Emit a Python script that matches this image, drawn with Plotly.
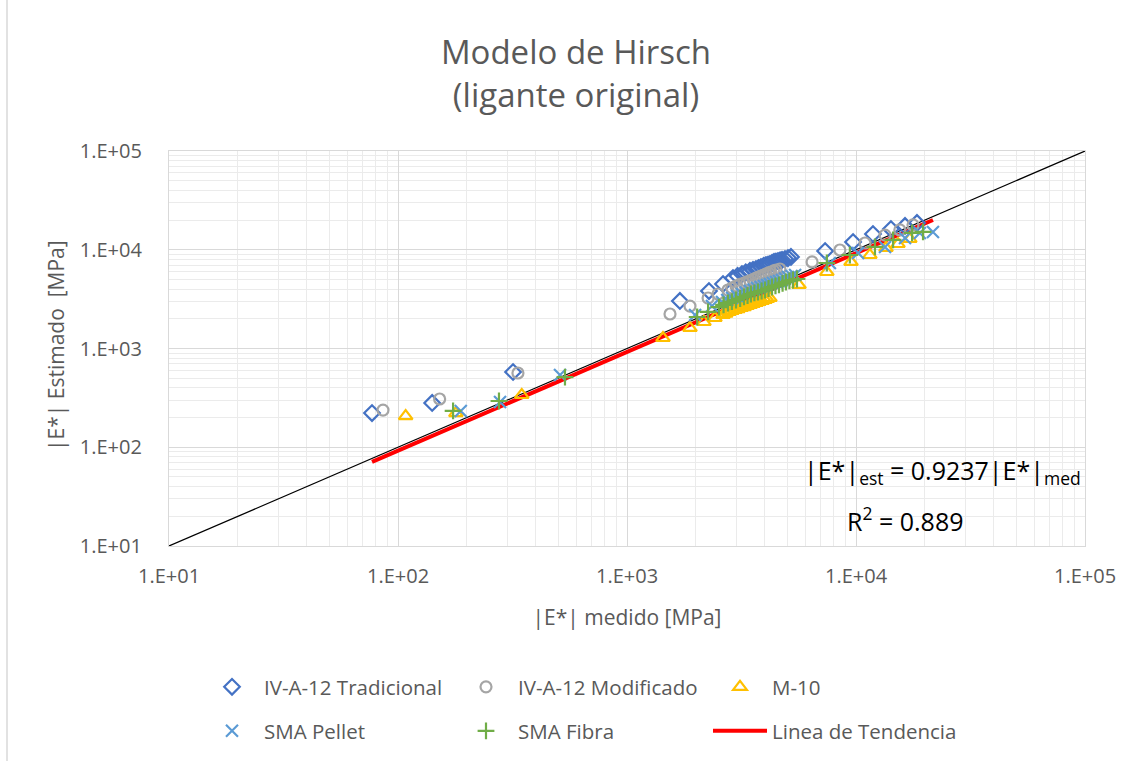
import plotly.graph_objects as go

# |E*| medido vs |E*| estimado (MPa), modelo de Hirsch, ligante original
trad_med = [77, 141, 318, 1702, 2280, 2626, 2903, 3040, 3177, 3300, 3442, 3550, 3656, 3750, 3845,
            3950, 4044, 4130, 4208, 4300, 4385, 4470, 4563, 4660, 4753, 4897, 5047, 5200,
            7330, 9710, 11860, 14210, 16370, 18460]
trad_est = [222, 281, 578, 3030, 3820, 4500, 5175, 5430, 5680, 5890, 6095, 6240, 6380, 6530, 6685,
            6850, 7010, 7090, 7175, 7350, 7520, 7600, 7695, 7790, 7880, 8060, 8245, 8450,
            9710, 11970, 14420, 16220, 17410, 18680]

modif_med = [86, 152, 334, 1541, 1884, 2260, 2497, 2760, 2870, 2992, 3110, 3243, 3340, 3442, 3550,
             3656, 3750, 3845, 3950, 4044, 4150, 4256, 4370, 4476, 4653, 6430, 8504, 10950,
             13390, 15540, 17740]
modif_est = [238, 308, 565, 2235, 2690, 3245, 3565, 3910, 4100, 4295, 4450, 4605, 4720, 4830, 5000,
             5175, 5300, 5420, 5550, 5680, 5820, 5955, 6100, 6240, 6385, 7520, 9940, 11700,
             14090, 15860, 17820]

m10_med = [108, 179, 347, 1436, 1884, 2168, 2421, 2626, 2700, 2787, 2870, 2963, 3050, 3149, 3250,
           3345, 3450, 3549, 3660, 3767, 3890, 4005, 4100, 4208, 5640, 7460, 9510, 11500,
           13520, 15250, 17180]
m10_est = [207, 222, 338, 1277, 1614, 1855, 2037, 2185, 2260, 2344, 2400, 2455, 2510, 2573, 2630,
           2695, 2760, 2825, 2890, 2960, 3030, 3100, 3170, 3245, 4400, 5955, 7520, 8850,
           10420, 11430, 12850]

pellet_med = [188, 279, 510, 1983, 2350, 2600, 2740, 2877, 3020, 3177, 3300, 3442, 3570, 3697,
              3830, 3963, 4090, 4208, 4340, 4476, 4610, 4753, 4900, 5047, 5230, 5420,
              7690, 10210, 13390, 16370, 19000, 21680]
pellet_est = [233, 287, 539, 2185, 2690, 2960, 3100, 3245, 3400, 3565, 3690, 3820, 3960, 4100,
              4200, 4295, 4400, 4500, 4600, 4715, 4830, 4940, 5120, 5295, 5420, 5550,
              7345, 9270, 10670, 13150, 14790, 15140]

fibra_med = [174, 276, 536, 2025, 2260, 2521, 2640, 2760, 2870, 2992, 3120, 3243, 3360, 3476, 3600,
             3733, 3870, 4005, 4150, 4297, 4450, 4610, 4780, 4945, 5120, 5305, 5525,
             7460, 9402, 12100, 14520, 17580, 19620]
fibra_est = [233, 294, 514, 2085, 2344, 2630, 2760, 2890, 2990, 3100, 3210, 3325, 3440, 3565, 3650,
             3735, 3820, 3910, 4050, 4195, 4300, 4400, 4560, 4715, 4830, 4940, 5055,
             7345, 8850, 10670, 12560, 14790, 15140]

# regresión por el origen: |E*|est = 0.9237 |E*|med
pendiente = 0.9237
r2 = 0.889

# recta de igualdad
igualdad = [1e1, 1e5]

tick_vals = [1e1, 1e2, 1e3, 1e4, 1e5]
tick_text = ["1.E+01", "1.E+02", "1.E+03", "1.E+04", "1.E+05"]
# divisiones menores 2..9 de cada década
minor_vals = [m * 10 ** e for e in range(1, 5) for m in range(2, 10)]

FONT = "Open Sans"
GRIS = "#595959"

# área de trazado en píxeles
L, R, T, B = 169, 1085, 151, 546
W, H = 1138, 761


def px_x(p):
    return (p - L) / (R - L)


def px_y(p):
    return (B - p) / (B - T)


todos_med = trad_med + modif_med + m10_med + pellet_med + fibra_med
tend_x = [min(todos_med), max(todos_med)]
tend_y = [pendiente * v for v in tend_x]

fig = go.Figure()

fig.add_trace(go.Scatter(x=igualdad, y=igualdad, mode="lines",
                         line=dict(color="black", width=1.2), showlegend=False,
                         hoverinfo="skip"))
fig.add_trace(go.Scatter(x=tend_x, y=tend_y, mode="lines", name="Linea de Tendencia",
                         line=dict(color="#FF0000", width=4), legend="legend2",
                         legendrank=3))

series = [
    ("IV-A-12 Tradicional", trad_med, trad_est, "diamond-open", "#4472C4", 12, "legend", 1),
    ("IV-A-12 Modificado", modif_med, modif_est, "circle-open", "#A5A5A5", 11, "legend", 2),
    ("M-10", m10_med, m10_est, "triangle-up-open", "#FFC000", 12, "legend", 3),
    ("SMA Pellet", pellet_med, pellet_est, "x-thin-open", "#5B9BD5", 12, "legend2", 1),
    ("SMA Fibra", fibra_med, fibra_est, "cross-thin-open", "#70AD47", 12, "legend2", 2),
]
for nombre, xs, ys, simbolo, color, tam, leg, rank in series:
    fig.add_trace(go.Scatter(
        x=xs, y=ys, mode="markers", name=nombre, legend=leg, legendrank=rank,
        marker=dict(symbol=simbolo, size=tam, color=color,
                    line=dict(color=color, width=2.2)),
    ))

eje = dict(
    type="log", range=[1, 5], tickvals=tick_vals, ticktext=tick_text,
    showgrid=True, gridcolor="#D9D9D9", gridwidth=1.3,
    minor=dict(showgrid=True, tickvals=minor_vals, gridcolor="#EBEBEB", gridwidth=1),
    showline=True, linecolor="#D9D9D9", linewidth=1.3, mirror=True,
    ticks="", tickfont=dict(family=FONT, size=20, color=GRIS),
    zeroline=False,
)

leyenda = dict(orientation="h", xref="container", yref="container",
               xanchor="left", yanchor="middle", itemwidth=54, entrywidth=185,
               font=dict(family=FONT, size=20.5, color=GRIS),
               bgcolor="rgba(0,0,0,0)", traceorder="normal")

fig.update_layout(
    width=W, height=H,
    margin=dict(l=L, r=W - R, t=T, b=H - B, autoexpand=False),
    paper_bgcolor="white", plot_bgcolor="white",
    title=dict(text="Modelo de Hirsch<br>(ligante original)", x=576 / W, xanchor="center",
               xref="container", yref="container", y=1 - 64 / H, yanchor="middle",
               font=dict(family=FONT, size=33, color=GRIS)),
    xaxis=dict(eje, title=dict(text="|E*| medido [MPa]", standoff=22,
                               font=dict(family=FONT, size=21, color=GRIS)),
               ticklabelstandoff=12),
    yaxis=dict(eje, ticklabelstandoff=22),
    legend=dict(leyenda, x=200 / W, y=1 - 687 / H),
    legend2=dict(leyenda, x=200 / W, y=1 - 731 / H),
    annotations=[
        dict(text="|E*| Estimado\u00a0\u00a0[MPa]", x=px_x(56), y=px_y(346),
             xref="paper", yref="paper", showarrow=False, textangle=-90,
             xanchor="center", yanchor="middle",
             font=dict(family=FONT, size=21, color=GRIS)),
        dict(text="|E*|<sub>est</sub> = 0.9237|E*|<sub>med</sub>", x=px_x(942), y=px_y(471),
             xref="paper", yref="paper", showarrow=False, xanchor="center", yanchor="middle",
             font=dict(family=FONT, size=25, color="black")),
        dict(text=f"R<sup>2</sup> = {r2}", x=px_x(905), y=px_y(519),
             xref="paper", yref="paper", showarrow=False, xanchor="center", yanchor="middle",
             font=dict(family=FONT, size=25, color="black")),
    ],
    shapes=[dict(type="line", xref="paper", yref="paper",
                 x0=px_x(7), x1=px_x(7), y0=-2, y1=2,
                 line=dict(color="#D9D9D9", width=1.5))],
)

fig.write_html("out.html")
